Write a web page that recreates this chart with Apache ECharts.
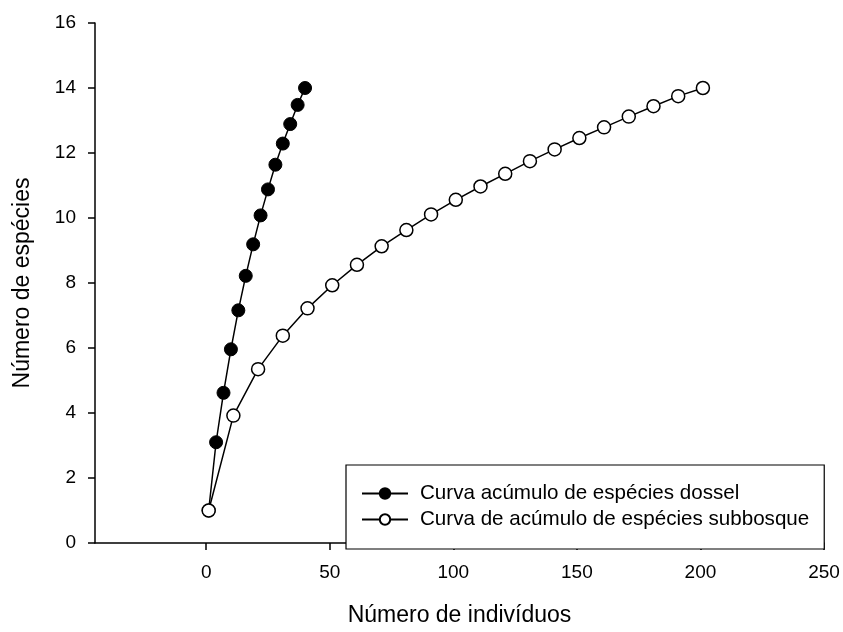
<!DOCTYPE html>
<html>
<head>
<meta charset="utf-8">
<script src="https://cdn.jsdelivr.net/npm/echarts@6/dist/echarts.min.js"></script>
<style>html,body{margin:0;padding:0;background:#fff}#c{width:843px;height:632px}</style>
</head>
<body>
<div id="c"></div>
<script>
var dosselX = [1, 4, 7, 10, 13, 16, 19, 22, 25, 28, 31, 34, 37, 40];
var dosselY = [1, 3.10, 4.62, 5.96, 7.16, 8.22, 9.19, 10.08, 10.88, 11.64, 12.29, 12.89, 13.48, 14.0];
var subX = [1, 11, 21, 31, 41, 51, 61, 71, 81, 91, 101, 111, 121, 131, 141, 151, 161, 171, 181, 191, 201];
var subY = [1, 3.92, 5.35, 6.38, 7.22, 7.93, 8.56, 9.13, 9.63, 10.11, 10.56, 10.97, 11.36, 11.75, 12.11, 12.46, 12.79, 13.12, 13.44, 13.75, 14.0];
var xTicks = [0, 50, 100, 150, 200, 250];
var seriesNames = ['Curva acúmulo de espécies dossel', 'Curva de acúmulo de espécies subbosque'];
var xTitle = 'Número de indivíduos';
var yTitle = 'Número de espécies';

function pairs(xs, ys) { return xs.map(function (x, i) { return [x, ys[i]]; }); }

var font = 'Liberation Sans, Arial, sans-serif';
var chart = echarts.init(document.getElementById('c'), null, {renderer: 'canvas'});
chart.setOption({
  animation: false,
  backgroundColor: '#fff',
  grid: {left: 95, right: 19, top: 23, bottom: 85, containLabel: false},
  xAxis: {
    type: 'value', min: -45, max: 250,
    name: xTitle, nameLocation: 'middle', nameGap: 61,
    nameTextStyle: {fontFamily: font, fontSize: 23, color: '#000'},
    axisLine: {show: true, onZero: false, lineStyle: {color: '#000', width: 1.5}},
    axisTick: {show: true, inside: false, length: 7, customValues: xTicks, lineStyle: {color: '#000', width: 1.5}},
    axisLabel: {customValues: xTicks, margin: 20, fontFamily: font, fontSize: 19, color: '#000'},
    splitLine: {show: false}
  },
  yAxis: {
    type: 'value', min: 0, max: 16, interval: 2,
    name: yTitle, nameLocation: 'middle', nameGap: 61,
    nameTextStyle: {fontFamily: font, fontSize: 23, color: '#000'},
    axisLine: {show: true, onZero: false, lineStyle: {color: '#000', width: 1.5}},
    axisTick: {show: true, inside: false, length: 7, lineStyle: {color: '#000', width: 1.5}},
    axisLabel: {margin: 19, fontFamily: font, fontSize: 19, color: '#000'},
    splitLine: {show: false}
  },
  legend: {
    orient: 'vertical', left: 346, top: 465,
    padding: [18, 15, 19, 15], itemGap: 5,
    itemWidth: 46, itemHeight: 13,
    backgroundColor: '#fff', borderColor: '#000', borderWidth: 1.2,
    textStyle: {fontFamily: font, fontSize: 20.6, color: '#000', padding: [0, 0, 0, 7]},
    data: seriesNames
  },
  series: [
    {
      name: seriesNames[0], type: 'line', data: pairs(dosselX, dosselY),
      symbol: 'circle', symbolSize: 13, showAllSymbol: true,
      lineStyle: {color: '#000', width: 1.5},
      itemStyle: {color: '#000', borderColor: '#000', borderWidth: 1},
      z: 2
    },
    {
      name: seriesNames[1], type: 'line', data: pairs(subX, subY),
      symbol: 'circle', symbolSize: 13, showAllSymbol: true,
      lineStyle: {color: '#000', width: 1.5},
      itemStyle: {color: '#fff', borderColor: '#000', borderWidth: 1.5},
      z: 3
    }
  ]
});
</script>
</body>
</html>
